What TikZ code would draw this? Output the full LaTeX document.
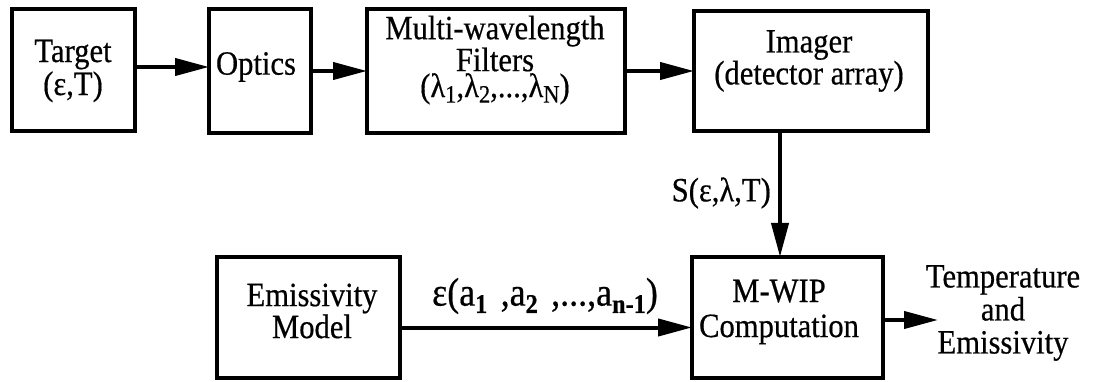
\documentclass[tikz,border=0pt]{standalone}
\usepackage{fontspec}
\setmainfont[FakeStretch=0.9,FakeBold=0.5]{Liberation Serif}
\usetikzlibrary{arrows.meta,calc}
\newcommand\lsub[1]{\raisebox{-0.35ex}{\fontsize{25}{25}\selectfont #1}}
\newcommand\bsub[1]{\raisebox{-0.4ex}{\fontsize{27}{27}\selectfont\bfseries #1}}
\begin{document}
\begin{tikzpicture}[x=1pt,y=-1pt,
  box/.style={draw,line width=4pt,inner sep=0pt,outer sep=0pt},
  txt/.style={align=center,inner sep=0pt,font=\fontsize{34}{33}\selectfont},
  conn/.style={line width=4pt,-{Triangle[length=34pt,width=17pt]}},
  lbl/.style={inner sep=0pt,font=\fontsize{34}{33}\selectfont}]
\useasboundingbox (0,0) rectangle (1095,382);
% boxes
\node[box,minimum width=123pt,minimum height=122pt] (target) at (73.5,70) {};
\node[box,minimum width=102pt,minimum height=124pt] (optics) at (260,71) {};
\node[box,minimum width=258pt,minimum height=124pt] (filt) at (496,71) {};
\node[box,minimum width=234pt,minimum height=120pt] (imager) at (811,71) {};
\node[box,minimum width=183pt,minimum height=121pt] (emis) at (308.5,317.5) {};
\node[box,minimum width=191pt,minimum height=121pt] (mwip) at (787.5,317.5) {};
% texts
\node[txt] (ttarget) at (73,71) {Target\\(ε,T)};
\node[txt] (toptics) at (256,67) {Optics};
\node[txt,font=\fontsize{34}{26}\selectfont] (tfilt) at (495,60) {Multi-wavelength\\Filters\\(λ\lsub{1},λ\lsub{2},...,λ\lsub{N})};
\node[txt,font=\fontsize{34}{29}\selectfont] (timager) at (809,61) {Imager\\(detector array)};
\node[txt,font=\fontsize{34}{32}\selectfont] (temis) at (312,311) {Emissivity\\Model};
\node[txt,font=\fontsize{34}{35}\selectfont] (tmwip) at (779,312) {M-WIP\\Computation};
\node[txt] (out) at (1003,313) {Temperature\\and\\Emissivity};
% connectors
\draw[conn] ([yshift=3pt]target.east) -- ([yshift=3pt]target.east -| optics.west);
\draw[conn] (optics.east) -- (optics.east -| filt.west);
\draw[conn] (filt.east) -- (filt.east -| imager.west);
\coordinate (vtop) at ([xshift=-7.5pt]mwip.north |- imager.south);
\draw[conn] (vtop) -- ([xshift=-7.5pt]mwip.north);
\draw[conn] ([yshift=-10pt]emis.east) -- ([yshift=-10pt]emis.east -| mwip.west);
\coordinate (outend) at (938,320);
\draw[conn] (mwip.east |- outend) -- (outend);
% labels
\node[lbl,anchor=east] (slbl) at (771,193) {S(ε,λ,T)};
\node[lbl,font=\fontsize{40}{40}\selectfont] (elbl) at (545,296) {ε(a\bsub{1}\,\,,a\bsub{2}\,\,,...,a\bsub{n-1})};
\end{tikzpicture}
\end{document}
